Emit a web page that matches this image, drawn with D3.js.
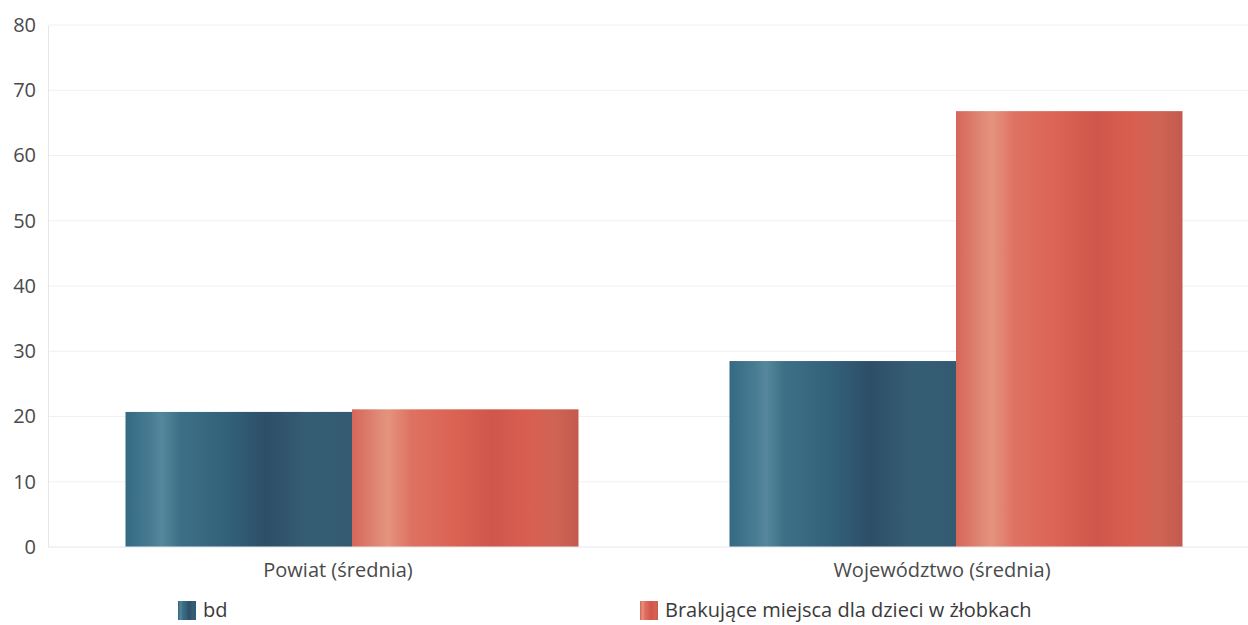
<!DOCTYPE html>
<html>
<head>
<meta charset="utf-8">
<script src="https://cdn.jsdelivr.net/npm/d3@7"></script>
<style>
  body { margin: 0; background: #fff; }
  text { font-family: "Open Sans", "DejaVu Sans", sans-serif; }
</style>
</head>
<body>
<div id="chart"></div>
<script>
const categories = ['Powiat (średnia)', 'Województwo (średnia)']
const seriesNames = ['bd', 'Brakujące miejsca dla dzieci w żłobkach']
const bdValues = [20.7, 28.5]
const brakValues = [21.1, 66.8]
const yTicks = [0, 10, 20, 30, 40, 50, 60, 70, 80]

const W = 1248
const H = 625
const margin = { top: 25, right: 0, bottom: 78, left: 48 }

const svg = d3.select('#chart')
  .append('svg')
  .attr('width', W)
  .attr('height', H)

const defs = svg.append('defs')

function gradient (id, stops) {
  const g = defs.append('linearGradient')
    .attr('id', id)
    .attr('x1', '0%').attr('x2', '100%')
    .attr('y1', '0%').attr('y2', '0%')
  stops.forEach(s => g.append('stop').attr('offset', s[0]).attr('stop-color', s[1]))
}

gradient('gradBlue', [
  ['0%', '#336a82'], ['12%', '#4a7d94'], ['16%', '#56879c'], ['24%', '#3d7087'],
  ['45%', '#32617a'], ['62%', '#2e4e67'], ['80%', '#355d74'], ['100%', '#335a70']
])
gradient('gradRed', [
  ['0%', '#d6665a'], ['12%', '#e08a77'], ['16%', '#e5937e'], ['26%', '#de7262'],
  ['45%', '#db6354'], ['62%', '#cf564b'], ['78%', '#d85f50'], ['90%', '#cf6454'], ['100%', '#c45a4e']
])

const x0 = d3.scaleBand()
  .domain(categories)
  .range([50, 1258])
  .paddingInner(0.25)
  .paddingOuter(0.125)

const x1 = d3.scaleBand()
  .domain(seriesNames)
  .range([0, x0.bandwidth()])

const y = d3.scaleLinear()
  .domain([0, 80])
  .range([H - margin.bottom, margin.top])

// grid
svg.append('g')
  .selectAll('line')
  .data(yTicks.slice(1))
  .enter()
  .append('line')
  .attr('x1', margin.left)
  .attr('x2', W - margin.right)
  .attr('y1', d => y(d))
  .attr('y2', d => y(d))
  .attr('stroke', '#f0f0f0')
  .attr('stroke-width', 1)

// y axis
const yAxis = svg.append('g')
  .attr('transform', `translate(${margin.left},0)`)
  .call(d3.axisLeft(y).tickValues(yTicks).tickSize(0).tickPadding(12))
yAxis.select('.domain').attr('stroke', '#e6e6e6')
yAxis.selectAll('text')
  .attr('font-size', 20)
  .attr('fill', '#4a4a4a')

const rows = categories.map((c, i) => ({ cat: c, vals: [bdValues[i], brakValues[i]] }))

const groups = svg.append('g')
  .selectAll('g')
  .data(rows)
  .enter()
  .append('g')
  .attr('transform', d => `translate(${x0(d.cat)},0)`)

groups.selectAll('rect')
  .data(d => d.vals.map((v, j) => ({ key: seriesNames[j], v })))
  .enter()
  .append('rect')
  .attr('x', d => x1(d.key))
  .attr('width', x1.bandwidth())
  .attr('y', d => y(d.v))
  .attr('height', d => y(0) - y(d.v))
  .attr('fill', (d, j) => j === 0 ? 'url(#gradBlue)' : 'url(#gradRed)')

// baseline
svg.append('line')
  .attr('x1', margin.left)
  .attr('x2', W - margin.right)
  .attr('y1', y(0))
  .attr('y2', y(0))
  .attr('stroke', '#e6e6ee')

// x labels
svg.append('g')
  .selectAll('text')
  .data(categories)
  .enter()
  .append('text')
  .attr('x', d => x0(d) + x0.bandwidth() / 2 - 14)
  .attr('y', y(0) + 30)
  .attr('text-anchor', 'middle')
  .attr('font-size', 20)
  .attr('fill', '#4a4a4a')
  .text(d => d)

// legend
const legendX = [178, 640]
const legend = svg.append('g')
  .selectAll('g')
  .data(seriesNames)
  .enter()
  .append('g')
  .attr('transform', (d, i) => `translate(${legendX[i]},601)`)

legend.append('rect')
  .attr('width', 18)
  .attr('height', 19)
  .attr('fill', (d, i) => i === 0 ? 'url(#gradBlue)' : 'url(#gradRed)')

legend.append('text')
  .attr('x', 25)
  .attr('y', 16)
  .attr('font-size', 20)
  .attr('fill', '#3a3a3a')
  .text(d => d)
</script>
</body>
</html>
